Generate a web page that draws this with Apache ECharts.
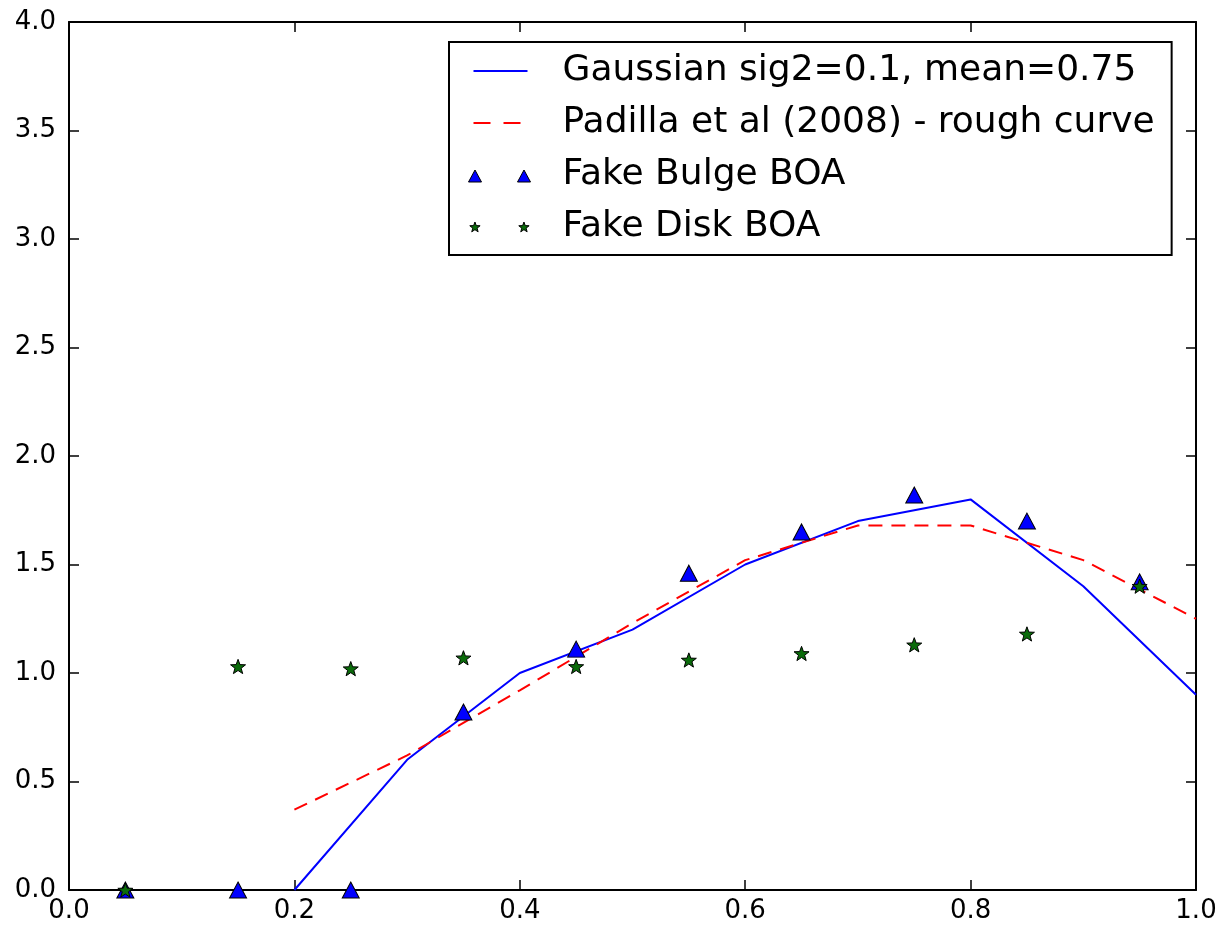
<!DOCTYPE html>
<html>
<head>
<meta charset="utf-8">
<script src="https://cdn.jsdelivr.net/npm/echarts@6/dist/echarts.min.js"></script>
<style>
html,body{margin:0;padding:0;background:#fff;}
#chart{width:1223px;height:925px;}
</style>
</head>
<body>
<div id="chart"></div>
<script>
// ---- data ----
const xTicks = [0.0, 0.2, 0.4, 0.6, 0.8, 1.0];
const yTicks = [0.0, 0.5, 1.0, 1.5, 2.0, 2.5, 3.0, 3.5, 4.0];

const gaussX = [0.2, 0.3, 0.4, 0.5, 0.6, 0.7, 0.8, 0.9, 1.0];
const gaussY = [0.0, 0.6, 1.0, 1.2, 1.5, 1.7, 1.8, 1.4, 0.9];

const padillaX = [0.2, 0.3, 0.4, 0.5, 0.6, 0.7, 0.8, 0.9, 1.0];
const padillaY = [0.37, 0.62, 0.92, 1.23, 1.52, 1.68, 1.68, 1.52, 1.25];

const binX = [0.05, 0.15, 0.25, 0.35, 0.45, 0.55, 0.65, 0.75, 0.85, 0.95];
const bulgeY = [0.0, 0.0, 0.0, 0.82, 1.11, 1.46, 1.65, 1.82, 1.70, 1.42];
const diskY  = [0.0, 1.03, 1.02, 1.07, 1.03, 1.06, 1.09, 1.13, 1.18, 1.40];

const seriesNames = [
  'Gaussian sig2=0.1, mean=0.75',
  'Padilla et al (2008) - rough curve',
  'Fake Bulge BOA',
  'Fake Disk BOA'
];

const zip = (xs, ys) => xs.map((x, i) => [x, ys[i]]);

const STAR = 'M8,0L9.94,5.33L15.61,5.53L11.14,9.02L12.7,14.47L8,11.3L3.3,14.47L4.86,9.02L0.39,5.53L6.06,5.33Z';
function starAt(dx, dy, s) {
  const pts = [[8,0],[9.94,5.33],[15.61,5.53],[11.14,9.02],[12.7,14.47],[8,11.3],[3.3,14.47],[4.86,9.02],[0.39,5.53],[6.06,5.33]];
  return 'M' + pts.map(p => (dx + p[0]*s).toFixed(2) + ',' + (dy + p[1]*s).toFixed(2)).join('L') + 'Z';
}
// legend icons, bounding box 70x16
const iconBounds = 'M0,0M70,16';
const iconLine = 'path://' + iconBounds + 'M7,7L61,7L61,9L7,9Z';
const iconDash = 'path://' + iconBounds + 'M7,7L24,7L24,9L7,9ZM37,7L54,7L54,9L37,9Z';
const iconTri = 'path://' + iconBounds + 'M2,15L8.5,3L15,15ZM51,15L57.5,3L64,15Z';
const iconStar = 'path://' + iconBounds + starAt(3, 3, 0.68) + starAt(52, 3, 0.68);

const font = 'DejaVu Sans';

function axisCommon(show) {
  return {
    min: 0,
    axisLine: { show: true, onZero: false, lineStyle: { color: '#000', width: 2 } },
    axisTick: { show: true, inside: true, length: 10, lineStyle: { color: '#000', width: 1.5 } },
    splitLine: { show: false },
    axisLabel: { show: show, color: '#000', fontFamily: font, fontSize: 26 }
  };
}

const chart = echarts.init(document.getElementById('chart'), null, { renderer: 'canvas' });
const option = {
  backgroundColor: '#fff',
  animation: false,
  grid: { left: 69, right: 27, top: 22, bottom: 35, containLabel: false },
  xAxis: [
    Object.assign(axisCommon(true), {
      type: 'value', position: 'bottom', max: 1.0, interval: 0.2,
      axisLabel: { show: true, color: '#000', fontFamily: font, fontSize: 26, margin: 8,
        formatter: v => v.toFixed(1) }
    }),
    Object.assign(axisCommon(false), { type: 'value', position: 'top', max: 1.0, interval: 0.2 })
  ],
  yAxis: [
    Object.assign(axisCommon(true), {
      type: 'value', position: 'left', max: 4.0, interval: 0.5,
      axisLabel: { show: true, color: '#000', fontFamily: font, fontSize: 26, margin: 13,
        formatter: v => v.toFixed(1) }
    }),
    Object.assign(axisCommon(false), { type: 'value', position: 'right', max: 4.0, interval: 0.5 })
  ],
  legend: {
    orient: 'vertical',
    left: 449, top: 42,
    padding: [9, 17, 8, 17],
    itemGap: 12,
    itemWidth: 70, itemHeight: 16,
    backgroundColor: '#fff',
    borderColor: '#000', borderWidth: 2, borderRadius: 0,
    textStyle: { fontFamily: font, fontSize: 36, color: '#000', lineHeight: 40, padding: [0, 0, 0, 21] },
    data: [
      { name: seriesNames[0], icon: iconLine, itemStyle: { color: '#0000ff', borderWidth: 0 } },
      { name: seriesNames[1], icon: iconDash, itemStyle: { color: '#ff0000', borderWidth: 0 } },
      { name: seriesNames[2], icon: iconTri, itemStyle: { color: '#0000ff', borderColor: '#000', borderWidth: 1 } },
      { name: seriesNames[3], icon: iconStar, itemStyle: { color: '#0b6b0b', borderColor: '#000', borderWidth: 1 } }
    ]
  },
  series: [
    {
      name: seriesNames[0], type: 'line', symbol: 'none', showSymbol: false,
      data: zip(gaussX, gaussY),
      lineStyle: { color: '#0000ff', width: 2 },
      itemStyle: { color: '#0000ff' },
      z: 2
    },
    {
      name: seriesNames[1], type: 'line', symbol: 'none', showSymbol: false,
      data: zip(padillaX, padillaY),
      lineStyle: { color: '#ff0000', width: 2, type: [14, 9] },
      itemStyle: { color: '#ff0000' },
      z: 2
    },
    {
      name: seriesNames[2], type: 'scatter', symbol: 'triangle', symbolSize: [17, 16],
      data: zip(binX, bulgeY),
      itemStyle: { color: '#0000ff', borderColor: '#000', borderWidth: 1, opacity: 1 },
      z: 3
    },
    {
      name: seriesNames[3], type: 'scatter', symbol: 'path://' + STAR, symbolSize: 15, symbolKeepAspect: true,
      data: zip(binX, diskY),
      itemStyle: { color: '#0b6b0b', borderColor: '#000', borderWidth: 1, opacity: 1 },
      z: 4
    }
  ]
};
chart.setOption(option);
</script>
</body>
</html>
